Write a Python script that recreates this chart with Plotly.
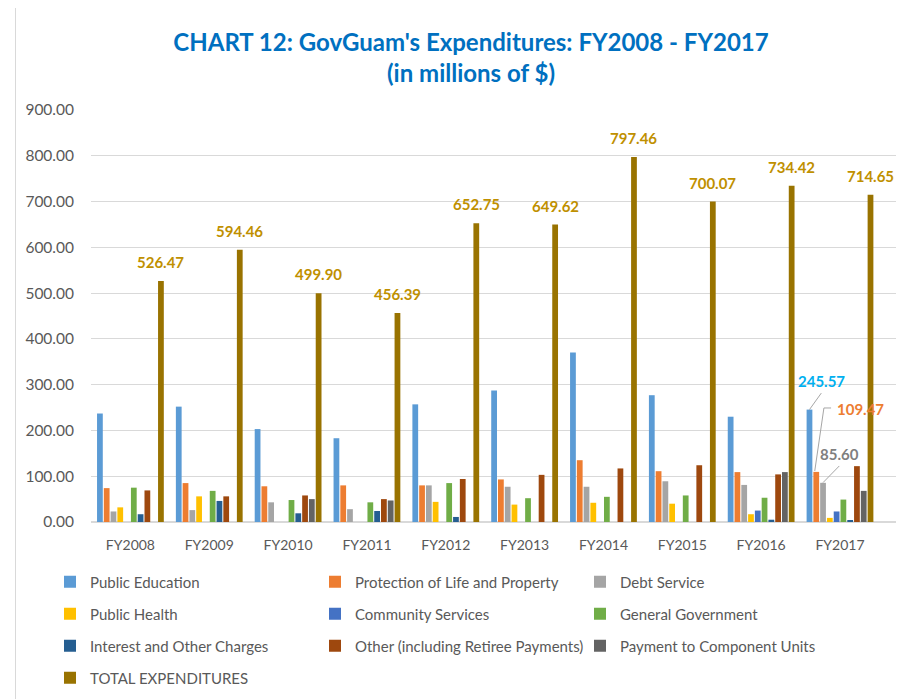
import plotly.graph_objects as go

categories = ['FY2008', 'FY2009', 'FY2010', 'FY2011', 'FY2012',
              'FY2013', 'FY2014', 'FY2015', 'FY2016', 'FY2017']

public_education = [237, 252, 203, 183, 257, 287, 370, 277, 230, 245.57]
protection = [74, 85, 78, 80, 80, 93, 135, 111, 109, 109.47]
debt_service = [23, 26, 43, 28, 80, 77, 77, 89, 81, 85.60]
public_health = [32, 56, None, None, 44, 38, 42, 40, 17, 9]
community_services = [None, None, None, None, None, None, None, None, 25, 23]
general_government = [75, 68, 48, 43, 85, 52, 55, 58, 53, 49]
interest_charges = [17, 46, 19, 24, 11, None, None, None, 5, 3]
other_retiree = [69, 56, 58, 50, 94, 103, 117, 124, 104, 122]
payment_component = [None, None, 50, 47, None, None, None, None, 109, 68]
total_expenditures = [526.47, 594.46, 499.90, 456.39, 652.75,
                      649.62, 797.46, 700.07, 734.42, 714.65]

series = [
    ('Public Education', public_education, '#5B9BD5', 'legend'),
    ('Protection of Life and Property', protection, '#ED7D31', 'legend'),
    ('Debt Service', debt_service, '#A5A5A5', 'legend'),
    ('Public Health', public_health, '#FFC000', 'legend2'),
    ('Community Services', community_services, '#4472C4', 'legend2'),
    ('General Government', general_government, '#70AD47', 'legend2'),
    ('Interest and Other Charges', interest_charges, '#255E91', 'legend3'),
    ('Other (including Retiree Payments)', other_retiree, '#9E480E', 'legend3'),
    ('Payment to Component Units', payment_component, '#636363', 'legend3'),
    ('TOTAL EXPENDITURES', total_expenditures, '#997300', 'legend4'),
]

FONT = 'Lato'
TXT = '#595959'
BARGAP = 0.14
n = len(series)

fig = go.Figure()
for name, vals, color, lg in series:
    fig.add_trace(go.Bar(name=name, x=categories, y=vals,
                         marker=dict(color=color, line=dict(width=0)),
                         legend=lg))


def bar_offset(k):
    """centre of the k-th bar of a group, in category units"""
    w = (1 - BARGAP) / n
    return -(1 - BARGAP) / 2 + w * (k + 0.5)


annotations = []
tot_off = bar_offset(n - 1)
for i, v in enumerate(total_expenditures):
    annotations.append(dict(x=i + tot_off, y=v, xref='x', yref='y',
                            text='<b>%.2f</b>' % v, showarrow=False,
                            yanchor='bottom', yshift=8,
                            font=dict(family=FONT, size=15, color='#BF9000')))

# FY2017 call-outs
last = len(categories) - 1
callouts = [
    (public_education[last], '#00B0F0', -0.237, 62),
    (protection[last], '#ED7D31', 0.26, 138),
    (debt_service[last], '#7F7F7F', -0.01, 64),
]
for v, col, dx, dy in callouts:
    annotations.append(dict(x=last + dx, y=v + dy, xref='x', yref='y',
                            text='<b>%.2f</b>' % v, showarrow=False,
                            font=dict(family=FONT, size=15, color=col)))

# page offset of the browser (body margin) is 8 px
OFF = 8
PL, PR, PT, PB = 91 - OFF, 896 - OFF, 110 - OFF, 522 - OFF   # plot area in figure px
PW, PH = PR - PL, PB - PT

lc = dict(color='#A6A6A6', width=1)
shapes = [
    dict(type='line', xref='x', yref='y', x0=last + bar_offset(0), y0=public_education[last],
         x1=last - 0.237, y1=public_education[last] + 36, line=lc),
    dict(type='line', xref='x', yref='y', x0=last - 0.32, y0=protection[last] + 2,
         x1=last - 0.204, y1=protection[last] + 139.6, line=lc),
    dict(type='line', xref='x', yref='y', x0=last - 0.204, y0=protection[last] + 139.6,
         x1=last - 0.113, y1=protection[last] + 139.6, line=lc),
    dict(type='line', xref='x', yref='y', x0=last + bar_offset(2), y0=debt_service[last] + 0.5,
         x1=last - 0.009, y1=debt_service[last] + 36.8, line=lc),
    # chart border
    dict(type='rect', xref='paper', yref='paper',
         x0=(15.5 - OFF - PL) / PW, x1=(915.5 - OFF - PL) / PW,
         y0=(PB - 705) / PH, y1=(PB - (7 - OFF) - 0.5) / PH,
         line=dict(color='#D9D9D9', width=1), fillcolor='rgba(0,0,0,0)', layer='below'),
]

H = 699
legend_common = dict(orientation='h', xref='container', yref='container',
                     xanchor='left', yanchor='middle', entrywidth=220,
                     font=dict(family=FONT, size=15, color=TXT),
                     bgcolor='rgba(0,0,0,0)', traceorder='normal')
rows_y = [574, 606, 638, 670]
legend_x = 42 / 920

fig.update_layout(
    width=920, height=699,
    margin=dict(l=PL, r=920 - PR, t=PT, b=699 - PB, autoexpand=False),
    paper_bgcolor='white', plot_bgcolor='white',
    barmode='group', bargap=BARGAP, bargroupgap=0.15,
    font=dict(family=FONT, size=15, color=TXT),
    title=dict(text="<b>CHART 12: GovGuam's Expenditures: FY2008 - FY2017<br>(in millions of $)</b>",
               x=463 / 920, xanchor='center', xref='container',
               y=1 - 43 / H, yanchor='middle', yref='container',
               font=dict(family=FONT, size=24, color='#0070C0')),
    xaxis=dict(type='category', showgrid=False, showline=False, ticks='', automargin=False,
               ticklabelstandoff=13, tickfont=dict(family=FONT, size=14, color=TXT)),
    yaxis=dict(range=[0, 900], dtick=100, tickformat='.2f', showgrid=True, automargin=False,
               gridcolor='#D9D9D9', gridwidth=1, zeroline=True, zerolinecolor='#D9D9D9',
               showline=False, ticks='', ticklabelstandoff=16,
               tickfont=dict(family=FONT, size=15.5, color=TXT)),
    legend=dict(legend_common, x=legend_x, y=1 - rows_y[0] / H),
    legend2=dict(legend_common, x=legend_x, y=1 - rows_y[1] / H),
    legend3=dict(legend_common, x=legend_x, y=1 - rows_y[2] / H),
    legend4=dict(legend_common, x=legend_x, y=1 - rows_y[3] / H),
    annotations=annotations,
    shapes=shapes,
)

fig.write_html('out.html')
